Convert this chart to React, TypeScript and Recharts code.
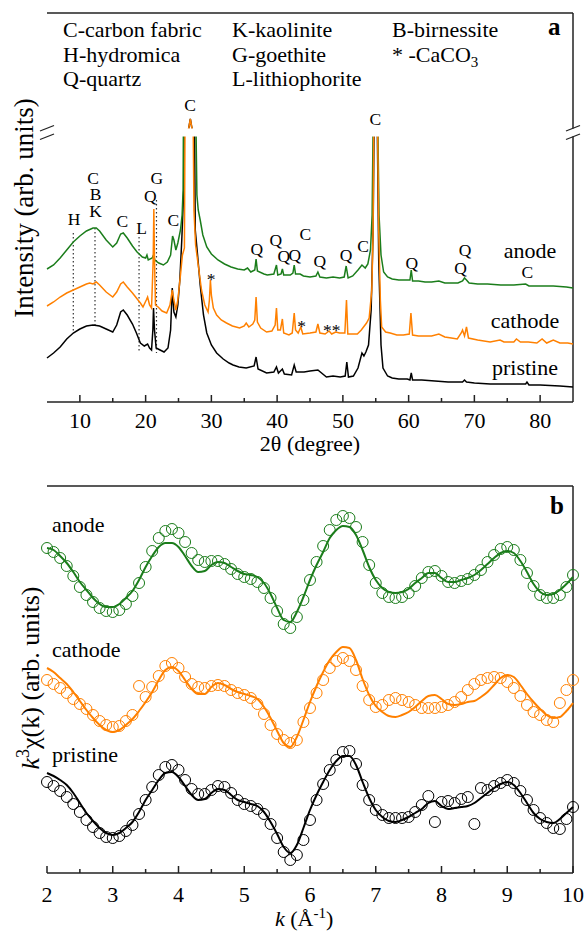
import React from 'react';
import { LineChart, Line, XAxis, YAxis, ReferenceLine, ReferenceDot } from 'recharts';

const SERIF = "'Liberation Serif', 'Times New Roman', 'DejaVu Serif', serif";
const GREEN = '#1b7d1b';
const ORANGE = '#ff8000';
const BLACK = '#000000';
const AXIS = '#222222';

// XRD patterns as [2theta, intensity]; values above ~863 sit behind the axis break
const anodeXrd = [
  [5, 731], [6, 735], [7, 742], [8, 750], [9, 758], [10, 764], [11, 769], [12, 772], [12.5, 772], [13, 769],
  [14, 760], [15, 753], [15.6, 757], [16.2, 766], [16.6, 767], [17.2, 762], [18, 754], [18.7, 748], [19.5, 743],
  [20, 742], [20.2, 745], [20.4, 740], [21, 742], [21.2, 745], [21.4, 740], [22, 737], [22.7, 735], [23.3, 738],
  [23.8, 745], [24.1, 764], [24.3, 760], [24.6, 750], [24.9, 757], [25.3, 770], [25.55, 785], [25.7, 810],
  [25.74, 863], [25.76, 867.5], [27.64, 867.5], [27.68, 863], [27.8, 805], [28.0, 790], [28.3, 780], [28.7, 765],
  [29.3, 753], [30, 746], [31, 740], [32, 736], [33, 733], [34, 731], [35, 730], [35.5, 732], [36, 728],
  [36.6, 730], [36.8, 741], [37, 729], [38, 726], [38.5, 725], [39.5, 726], [39.9, 735], [40.1, 725], [40.6, 726],
  [40.8, 731], [41, 725], [42, 725], [42.4, 727], [42.6, 735], [42.8, 726], [43.5, 726], [44, 724], [45, 723],
  [45.9, 724], [46.2, 728], [46.5, 723], [47.5, 722], [48.5, 723], [49.5, 722], [50.2, 723], [50.5, 734],
  [50.8, 722], [51.5, 724], [52.3, 730], [52.9, 735], [53.4, 732], [53.8, 736], [54.2, 750], [54.45, 785],
  [54.58, 863], [54.6, 867.5], [55.32, 867.5], [55.34, 863], [55.5, 785], [55.8, 745], [56.2, 728], [56.8, 723],
  [57.5, 721], [58.5, 720], [59.5, 720], [60.2, 720], [60.4, 730], [60.6, 719], [61.5, 719], [62.5, 718],
  [63.5, 718], [64.6, 719], [65.5, 717], [66.5, 717], [67.5, 717], [68.2, 719], [68.5, 722], [68.8, 720],
  [69.2, 717], [70.5, 716], [72, 716], [74, 715], [76, 715], [77.8, 716], [78.3, 714], [80, 714], [82, 714],
  [84, 713], [85, 712],
];

const cathodeXrd = [
  [5, 694], [6, 698], [7, 703], [8, 707], [9, 710], [10, 713], [11, 716], [11.5, 717], [12, 716], [12.5, 718],
  [13, 715], [14, 708], [15, 703], [15.6, 708], [16.2, 716], [16.6, 718], [17.2, 713], [18, 707], [18.6, 702],
  [19.2, 697], [19.6, 693], [20.1, 700], [20.3, 703], [20.6, 695], [20.9, 692], [21.15, 740], [21.25, 791],
  [21.35, 740], [21.5, 695], [21.9, 693], [22.5, 689], [23.2, 687], [23.7, 695], [24.05, 710], [24.3, 700],
  [24.6, 690], [24.9, 700], [25.3, 725], [25.6, 745], [25.9, 752], [25.98, 863], [26.0, 867.5], [26.45, 867.5],
  [26.8, 881], [27.15, 867.5], [27.23, 867.5], [27.25, 863], [27.35, 790], [27.6, 755], [28.0, 735], [28.5, 710],
  [29.0, 695], [29.5, 688], [29.7, 700], [29.85, 720], [30.0, 705], [30.3, 692], [30.8, 685], [31.5, 680],
  [32.3, 677], [33.2, 674], [34.3, 672], [35.0, 674], [35.3, 677], [35.7, 673], [36.3, 676], [36.6, 680],
  [36.8, 703], [37.0, 678], [37.5, 672], [38.4, 668], [39.2, 669], [39.7, 675], [39.9, 692], [40.1, 670],
  [40.5, 670], [40.8, 681], [41.0, 667], [41.8, 665], [42.3, 667], [42.6, 687], [42.8, 670], [43.2, 667],
  [43.6, 673], [43.9, 666], [45, 667], [45.9, 668], [46.2, 676], [46.5, 667], [47.3, 666], [47.9, 669],
  [48.3, 666], [48.9, 668], [49.5, 667], [50.3, 667], [50.55, 700], [50.75, 666], [51.5, 666], [52.2, 666],
  [52.8, 670], [53.6, 677], [54.0, 682], [54.4, 710], [54.6, 770], [54.68, 863], [54.7, 867.5], [55.28, 867.5],
  [55.3, 863], [55.45, 770], [55.7, 700], [55.9, 673], [56.5, 668], [57.2, 667], [58.2, 665], [59.2, 665],
  [60.1, 666], [60.35, 687], [60.6, 665], [61.5, 664], [62.2, 664], [63.5, 664], [64.6, 666], [65.5, 663],
  [66.5, 662], [67.4, 661], [68.0, 667], [68.2, 670], [68.5, 664], [68.8, 673], [69.1, 662], [70.5, 660],
  [72.4, 658], [73.9, 660], [74.5, 658], [76.0, 658], [76.4, 661], [77, 658], [78.2, 658], [79.5, 657],
  [80.3, 661], [81, 657], [82, 660], [83, 657], [84.2, 657], [85, 656],
];

const pristineXrd = [
  [5, 642], [6, 647], [7, 653], [8, 661], [9, 667], [10, 671], [11, 674], [12, 675], [13, 674], [14, 671],
  [15, 668], [15.6, 675], [16.2, 688], [16.6, 690], [17.2, 685], [18, 676], [18.6, 667], [19.2, 657], [19.8, 654],
  [20.3, 656], [20.6, 652], [20.9, 650], [21.1, 670], [21.2, 692], [21.35, 670], [21.6, 652], [22.2, 650],
  [22.8, 648], [23.4, 652], [23.8, 670], [24.05, 712], [24.3, 688], [24.6, 683], [24.9, 695], [25.2, 720],
  [25.5, 760], [25.8, 810], [25.86, 863], [25.88, 867.5], [26.45, 867.5], [26.8, 881], [27.15, 867.5],
  [27.43, 867.5], [27.45, 863], [27.55, 770], [27.9, 745], [28.3, 715], [28.8, 685], [29.3, 667], [30.0, 655],
  [30.8, 647], [31.8, 641], [32.7, 637], [33.3, 635], [34.2, 633], [35.3, 632], [36.5, 634], [36.8, 643],
  [37.1, 631], [38.4, 627], [39.5, 628], [39.9, 633], [40.2, 627], [40.8, 631], [41.1, 626], [42.2, 625],
  [42.6, 635], [42.9, 628], [44.1, 628], [45, 629], [46.2, 630], [47.5, 623], [48.5, 624], [49.6, 623],
  [50.35, 624], [50.6, 638], [50.85, 623], [51.6, 624], [52.3, 632], [52.9, 647], [53.2, 644], [53.5, 648],
  [53.9, 655], [54.3, 690], [54.6, 770], [54.73, 863], [54.75, 867.5], [55.23, 867.5], [55.25, 863],
  [55.45, 740], [55.8, 655], [56.1, 632], [56.8, 624], [57.5, 622], [58.5, 621], [59.8, 621], [60.2, 620],
  [60.4, 627], [60.6, 620], [62, 620], [64, 619], [66, 618], [68.2, 618], [68.5, 620], [68.8, 618], [70, 617],
  [72.4, 616], [75, 616], [77.8, 616], [78, 618], [78.3, 615], [80, 615], [83, 614], [85, 613],
];

const xrdTicks = [10, 15, 20, 25, 30, 35, 40, 45, 50, 55, 60, 65, 70, 75, 80];
const xrdTickLabels = [10, 20, 30, 40, 50, 60, 70, 80];

// phase markers over the peaks
const peakLabels = [
  { x: 9.1, y: 781.5, t: 'H' }, { x: 12.0, y: 822, t: 'C' }, { x: 12.4, y: 806, t: 'B' },
  { x: 12.4, y: 789, t: 'K' }, { x: 16.45, y: 779, t: 'C' }, { x: 19.4, y: 772, t: 'L' },
  { x: 20.7, y: 804, t: 'Q' }, { x: 21.7, y: 822, t: 'G' }, { x: 24.2, y: 780, t: 'C' },
  { x: 26.75, y: 895, t: 'C' }, { x: 29.95, y: 721, t: '*' }, { x: 36.9, y: 751, t: 'Q' },
  { x: 39.8, y: 760, t: 'Q' }, { x: 41.0, y: 744, t: 'Q' }, { x: 42.7, y: 745, t: 'Q' },
  { x: 44.3, y: 766, t: 'C' }, { x: 46.5, y: 739, t: 'Q' }, { x: 50.5, y: 745, t: 'Q' },
  { x: 53.06, y: 754, t: 'C' }, { x: 54.93, y: 881, t: 'C' }, { x: 60.47, y: 737, t: 'Q' },
  { x: 68.57, y: 750, t: 'Q' }, { x: 67.9, y: 732, t: 'Q' }, { x: 78.05, y: 728, t: 'C' },
  { x: 43.74, y: 674, t: '*' }, { x: 48.3, y: 670, t: '**' },
];

const markerLines = [
  { x: 9.0, y1: 767, y2: 668 },
  { x: 12.3, y1: 772, y2: 672 },
  { x: 19.0, y1: 763, y2: 647 },
  { x: 21.65, y1: 800, y2: 647 },
];

// EXAFS k^3 chi(k), experiment (circles) and fit (lines), offset stacked
const kGrid = [
  2.0, 2.1, 2.2, 2.3, 2.4, 2.5, 2.6, 2.7, 2.8, 2.9,
  3.0, 3.1, 3.2, 3.3, 3.4, 3.5, 3.6, 3.7, 3.8, 3.9,
  4.0, 4.1, 4.2, 4.3, 4.4, 4.5, 4.6, 4.7, 4.8, 4.9,
  5.0, 5.1, 5.2, 5.3, 5.4, 5.5, 5.6, 5.7, 5.8, 5.9,
  6.0, 6.1, 6.2, 6.3, 6.4, 6.5, 6.6, 6.7, 6.8, 6.9,
  7.0, 7.1, 7.2, 7.3, 7.4, 7.5, 7.6, 7.7, 7.8, 7.9,
  8.0, 8.1, 8.2, 8.3, 8.4, 8.5, 8.6, 8.7, 8.8, 8.9,
  9.0, 9.1, 9.2, 9.3, 9.4, 9.5, 9.6, 9.7, 9.8, 9.9,
  10.0,
];

const anodeExp = [
  452, 448, 442, 434, 424, 413, 405, 398, 392, 389,
  388, 390, 396, 404, 417, 433, 449, 462, 469, 471,
  467, 458, 447, 440, 438, 439, 439, 436, 431, 426,
  423, 421, 418, 412, 402, 389, 376, 372, 383, 400,
  420, 438, 454, 470, 480, 484, 482, 473, 458, 435,
  417, 407, 403, 402, 403, 407, 414, 422, 428, 429,
  424, 418, 417, 419, 421, 425, 430, 438, 445, 451,
  453, 450, 440, 427, 414, 405, 402, 402, 405, 413,
  425,
];
const anodeFit = [
  452, 450, 444, 437, 428, 418, 410, 402, 396, 393,
  393, 396, 402, 409, 420, 433, 444, 453, 457, 457,
  453, 444, 434, 428, 429, 435, 438, 437, 433, 429,
  426, 425, 423, 417, 406, 392, 380, 378, 388, 403,
  420, 435, 448, 462, 470, 474, 473, 465, 450, 433,
  420, 412, 408, 407, 408, 411, 417, 422, 427, 427,
  422, 418, 418, 420, 422, 425, 430, 436, 442, 447,
  449, 447, 439, 428, 416, 408, 405, 406, 410, 416,
  423,
];
const cathodeExp = [
  320, 316, 312, 307, 301, 296, 291, 285, 279, 275,
  273, 274, 279, 285, 314, 303, 313, 324, 334, 337,
  332, 323, 316, 313, 312, 314, 315, 314, 310, 307,
  305, 302, 296, 286, 275, 266, 260, 257, 260, 278,
  292, 307, 320, 332, 339, 342, 339, 330, 314, 300,
  293, 295, 300, 302, 300, 298, 295, 292, 292, 292,
  293, 295, 298, 303, 310, 316, 320, 322, 323, 322,
  318, 312, 304, 295, 288, 285, 280, 278, 297, 310,
  320,
];
const cathodeFit = [
  332, 328, 322, 316, 308, 299, 290, 282, 275, 270,
  268, 270, 275, 281, 289, 298, 308, 320, 330, 333,
  329, 320, 311, 306, 306, 313, 317, 315, 311, 308,
  306, 304, 301, 293, 282, 269, 257, 253, 263, 280,
  298, 314, 328, 340, 348, 353, 352, 340, 321, 305,
  294, 288, 284, 283, 285, 288, 293, 299, 304, 305,
  301, 296, 295, 296, 298, 299, 303, 308, 315, 322,
  325, 323, 315, 306, 298, 291, 285, 282, 283, 289,
  297,
];
const pristineExp = [
  218, 214, 209, 203, 196, 188, 180, 173, 167, 163,
  162, 164, 169, 175, 186, 200, 213, 225, 233, 235,
  230, 220, 211, 206, 206, 210, 214, 213, 207, 200,
  196, 194, 191, 186, 176, 162, 148, 140, 145, 160,
  180, 200, 216, 230, 240, 248, 249, 236, 215, 200,
  190, 185, 182, 182, 182, 183, 188, 195, 204, 178,
  198, 199, 197, 201, 203, 176, 212, 210, 214, 217,
  220, 217, 209, 200, 190, 182, 177, 172, 171, 181,
  193,
];
const pristineFit = [
  227, 224, 220, 215, 207, 197, 187, 179, 172, 167,
  165, 167, 172, 178, 188, 200, 210, 220, 227, 228,
  223, 214, 205, 200, 201, 207, 211, 210, 205, 200,
  198, 196, 194, 188, 178, 166, 153, 147, 155, 172,
  190, 205, 218, 230, 239, 244, 244, 235, 218, 202,
  190, 183, 179, 178, 180, 183, 187, 191, 197, 199,
  194, 191, 192, 193, 194, 197, 202, 207, 212, 216,
  218, 215, 207, 197, 187, 181, 178, 177, 181, 187,
  193,
];

const kTicks = [2, 2.5, 3, 3.5, 4, 4.5, 5, 5.5, 6, 6.5, 7, 7.5, 8, 8.5, 9, 9.5, 10];
const kTickLabels = [2, 3, 4, 5, 6, 7, 8, 9, 10];

const toPts = (arr: number[][]) => arr.map(([x, y]) => ({ x, y }));

const exafsRows = kGrid.map((k, i) => ({
  k,
  anodeExp: anodeExp[i],
  anodeFit: anodeFit[i],
  cathodeExp: cathodeExp[i],
  cathodeFit: cathodeFit[i],
  pristineExp: pristineExp[i],
  pristineFit: pristineFit[i],
}));

// inward tick marks, labels only on the major ticks
function InTick(props: any) {
  const { x, y, payload, majors, offset } = props;
  const major = majors.includes(payload.value);
  return (
    <g>
      <line x1={x} x2={x} y1={y} y2={y - (major ? 7 : 4)} stroke={AXIS} strokeWidth={1.5} />
      {major && (
        <text x={x} y={y + offset} textAnchor="middle" fontSize={22} style={{ fontFamily: SERIF }} fill="#000">
          {payload.value}
        </text>
      )}
    </g>
  );
}

const axisLine = { stroke: AXIS, strokeWidth: 1.5 };

function XrdPanel() {
  return (
    <LineChart width={587} height={460} margin={{ top: 13, right: 14, left: 47, bottom: 28 }}>
      <XAxis
        type="number"
        dataKey="x"
        domain={[5, 85]}
        ticks={xrdTicks}
        interval={0}
        height={30}
        tickSize={0}
        tickMargin={0}
        tickLine={false}
        axisLine={axisLine}
        tick={<InTick majors={xrdTickLabels} offset={26} />}
      />
      <YAxis type="number" domain={[598, 987]} width={0} tick={false} tickLine={false} axisLine={axisLine} />
      <ReferenceLine y={987} stroke={AXIS} strokeWidth={1.5} />
      <ReferenceLine x={85} stroke={AXIS} strokeWidth={1.5} />
      {markerLines.map((m, i) => (
        <ReferenceLine
          key={i}
          segment={[{ x: m.x, y: m.y1 }, { x: m.x, y: m.y2 }]}
          stroke="#333"
          strokeWidth={1.2}
          strokeDasharray="1.5 2.5"
        />
      ))}
      <Line data={toPts(pristineXrd)} dataKey="y" type="linear" stroke={BLACK} strokeWidth={1.5} dot={false} activeDot={false} isAnimationActive={false} />
      <Line data={toPts(anodeXrd)} dataKey="y" type="linear" stroke={GREEN} strokeWidth={1.5} dot={false} activeDot={false} isAnimationActive={false} />
      <Line data={toPts(cathodeXrd)} dataKey="y" type="linear" stroke={ORANGE} strokeWidth={1.5} dot={false} activeDot={false} isAnimationActive={false} />
      {peakLabels.map((p, i) => (
        <ReferenceDot
          key={i}
          x={p.x}
          y={p.y}
          r={0}
          fill="none"
          stroke="none"
          label={{ value: p.t, position: 'center', fill: '#000', fontSize: 17.5, fontFamily: SERIF }}
        />
      ))}
    </LineChart>
  );
}

function ExafsPanel() {
  const circle = (c: string) => ({ r: 5.5, stroke: c, strokeWidth: 1, fill: 'none' });
  return (
    <LineChart width={587} height={472} data={exafsRows} margin={{ top: 26, right: 14, left: 47, bottom: 29 }}>
      <XAxis
        type="number"
        dataKey="k"
        domain={[2, 10]}
        ticks={kTicks}
        interval={0}
        height={30}
        tickSize={0}
        tickMargin={0}
        tickLine={false}
        axisLine={axisLine}
        tick={<InTick majors={kTickLabels} offset={29} />}
      />
      <YAxis type="number" domain={[127, 514]} width={0} tick={false} tickLine={false} axisLine={axisLine} />
      <ReferenceLine y={514} stroke={AXIS} strokeWidth={1.5} />
      <ReferenceLine x={10} stroke={AXIS} strokeWidth={1.5} />
      <Line dataKey="anodeExp" stroke="none" dot={circle(GREEN)} activeDot={false} isAnimationActive={false} />
      <Line dataKey="cathodeExp" stroke="none" dot={circle(ORANGE)} activeDot={false} isAnimationActive={false} />
      <Line dataKey="pristineExp" stroke="none" dot={circle(BLACK)} activeDot={false} isAnimationActive={false} />
      <Line dataKey="anodeFit" type="monotone" stroke={GREEN} strokeWidth={2} dot={false} activeDot={false} isAnimationActive={false} />
      <Line dataKey="cathodeFit" type="monotone" stroke={ORANGE} strokeWidth={2} dot={false} activeDot={false} isAnimationActive={false} />
      <Line dataKey="pristineFit" type="monotone" stroke={BLACK} strokeWidth={2} dot={false} activeDot={false} isAnimationActive={false} />
    </LineChart>
  );
}

export default function App() {
  return (
    <div style={{ position: 'absolute', left: 0, top: 0, width: 587, height: 932, background: '#fff', fontFamily: SERIF }}>
      <div style={{ position: 'absolute', left: 0, top: 0 }}>
        <XrdPanel />
      </div>
      <div style={{ position: 'absolute', left: 0, top: 460 }}>
        <ExafsPanel />
      </div>
      <svg
        width={587}
        height={932}
        style={{ position: 'absolute', left: 0, top: 0, pointerEvents: 'none', fontFamily: SERIF }}
        fill="#000"
      >
        {/* axis break */}
        <rect x={36} y={128.5} width={548} height={8} fill="#fff" />
        <line x1={40} y1={131} x2={54} y2={125.5} stroke={AXIS} strokeWidth={1.3} />
        <line x1={40} y1={139.5} x2={54} y2={134} stroke={AXIS} strokeWidth={1.3} />
        <line x1={566} y1={131} x2={580} y2={125.5} stroke={AXIS} strokeWidth={1.3} />
        <line x1={566} y1={139.5} x2={580} y2={134} stroke={AXIS} strokeWidth={1.3} />

        <g fontSize={22}>
          <text x={63} y={37}>C-carbon fabric</text>
          <text x={63} y={62}>H-hydromica</text>
          <text x={63} y={86}>Q-quartz</text>
          <text x={232} y={37}>K-kaolinite</text>
          <text x={232} y={62}>G-goethite</text>
          <text x={232} y={86}>L-lithiophorite</text>
          <text x={392} y={37}>B-birnessite</text>
          <text x={392} y={62}>
            * -CaCO<tspan fontSize={15} dy={5}>3</tspan>
          </text>
          <text x={530} y={258} textAnchor="middle">anode</text>
          <text x={525} y={328} textAnchor="middle">cathode</text>
          <text x={525} y={375} textAnchor="middle">pristine</text>
          <text x={52} y={532}>anode</text>
          <text x={52} y={657}>cathode</text>
          <text x={52} y={762}>pristine</text>
          <text x={310} y={451} textAnchor="middle">2θ (degree)</text>
          <text x={275} y={926}>
            <tspan fontStyle="italic">k</tspan> (Å<tspan fontSize={15} dy={-8}>-1</tspan>
            <tspan dy={8}>)</tspan>
          </text>
        </g>
        <text x={548} y={35} fontSize={25} fontWeight="bold">a</text>
        <text x={550} y={514} fontSize={25} fontWeight="bold">b</text>
        <text transform="translate(33,208) rotate(-90)" textAnchor="middle" fontSize={27}>
          Intensity (arb. units)
        </text>
        <text transform="translate(39,678) rotate(-90)" textAnchor="middle" fontSize={26}>
          <tspan fontStyle="italic">k</tspan>
          <tspan fontSize={18} dy={-10}>3</tspan>
          <tspan dy={10}>χ(k) (arb. units)</tspan>
        </text>
      </svg>
    </div>
  );
}
